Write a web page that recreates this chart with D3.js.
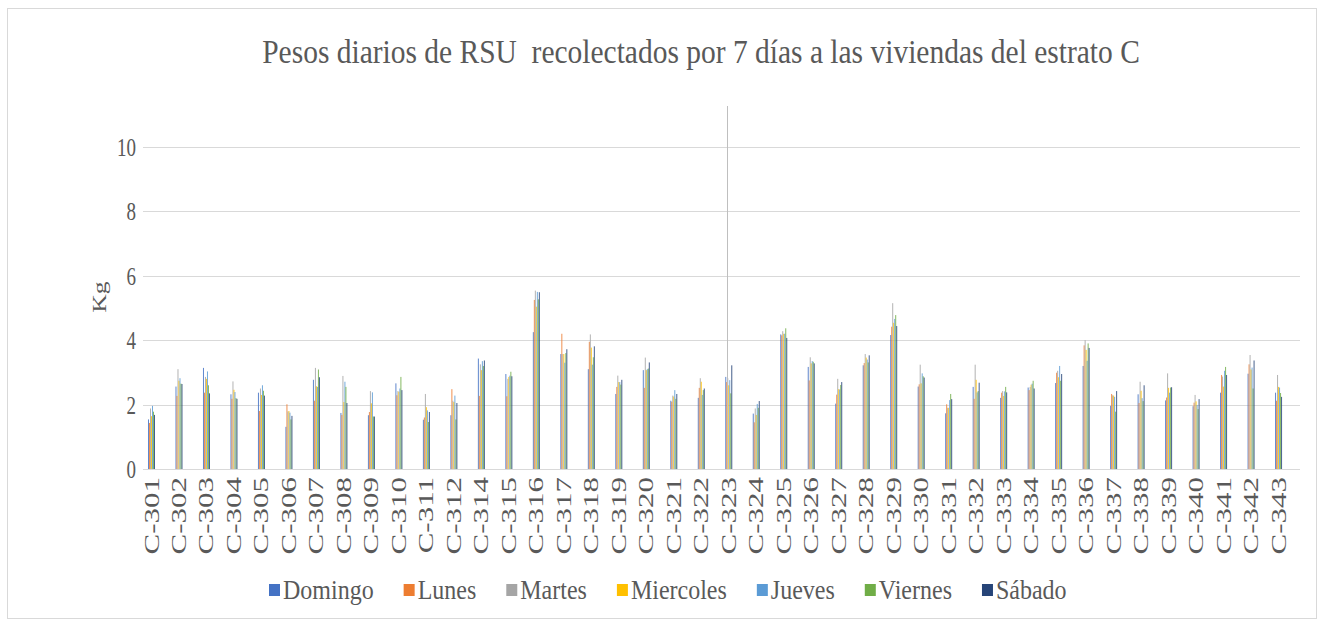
<!DOCTYPE html>
<html>
<head>
<meta charset="utf-8">
<script src="https://cdn.jsdelivr.net/npm/d3@7"></script>
<style>
  body { margin: 0; background: #fff; }
  text { font-family: "Liberation Serif", "DejaVu Serif", serif; fill: #595959; }
</style>
</head>
<body>
<div class="graph"></div>
<script>
// categories (viviendas)
var casas = ["C-301","C-302","C-303","C-304","C-305","C-306","C-307","C-308","C-309","C-310",
  "C-311","C-312","C-314","C-315","C-316","C-317","C-318","C-319","C-320","C-321",
  "C-322","C-323","C-324","C-325","C-326","C-327","C-328","C-329","C-330","C-331",
  "C-332","C-333","C-334","C-335","C-336","C-337","C-338","C-339","C-340","C-341",
  "C-342","C-343"];

var dias = ["Domingo","Lunes","Martes","Miercoles","Jueves","Viernes","Sábado"];
var colores = ["#4472C4","#ED7D31","#A5A5A5","#FFC000","#5B9BD5","#70AD47","#264478"];

// kg per day, one array per day (same order as casas)
var domingo   = [1.54,2.56,3.14,2.32,2.37,1.31,2.77,1.74,1.67,2.66,1.53,1.67,3.43,2.95,4.25,3.57,3.10,2.33,3.07,2.12,2.21,2.86,1.72,4.18,3.17,2.03,3.22,4.16,2.56,1.73,2.55,2.21,2.53,2.67,3.20,1.96,2.32,2.13,1.95,2.37,2.96,2.37];
var lunes     = [1.43,2.27,2.37,2.18,1.80,2.01,2.12,1.68,1.77,2.29,1.60,2.48,2.27,2.26,5.25,4.20,3.95,2.55,2.52,2.09,2.52,2.70,1.45,4.15,2.75,2.31,3.29,4.42,2.63,2.01,2.18,2.37,2.45,2.99,3.84,2.33,2.05,2.22,2.06,2.92,3.25,2.12];
var martes    = [1.88,3.10,2.86,2.72,2.50,1.79,3.14,2.89,2.42,2.42,2.33,2.12,3.25,2.80,5.54,3.57,4.18,2.90,3.46,2.28,2.82,2.82,1.88,4.28,3.47,2.80,3.57,5.15,3.24,1.90,3.24,2.42,2.55,3.05,4.00,2.29,2.71,2.97,2.30,2.87,3.54,2.92];
var miercoles = [1.64,2.74,2.80,2.46,2.30,1.80,2.57,2.08,2.04,2.40,1.92,2.08,3.07,2.86,5.04,3.57,3.77,2.70,3.07,2.25,2.71,2.60,1.68,4.20,3.28,2.48,3.46,4.54,2.66,1.90,2.77,2.27,2.62,2.85,3.70,2.28,2.43,2.52,2.10,2.56,3.09,2.55];
var jueves    = [1.96,2.82,3.03,2.39,2.60,1.75,2.55,2.71,2.38,2.50,1.82,2.28,3.35,2.90,5.50,3.30,3.24,2.70,3.10,2.45,2.30,2.76,2.02,4.20,3.35,2.47,3.40,4.66,2.97,2.14,2.38,2.41,2.65,3.20,3.36,2.24,2.20,2.37,1.99,3.05,3.15,2.53];
var viernes   = [1.78,2.65,2.60,2.20,2.43,1.54,3.09,2.55,1.63,2.86,1.46,1.54,3.20,3.02,5.27,3.60,3.47,2.62,3.12,2.18,2.45,2.35,1.90,4.37,3.33,2.61,3.31,4.78,2.88,2.33,2.42,2.55,2.74,2.74,3.90,1.78,2.11,2.53,1.86,3.17,2.50,2.36];
var sabado    = [1.68,2.64,2.35,2.18,2.28,1.65,2.85,2.05,1.63,2.45,1.77,2.05,3.37,2.88,5.49,3.72,3.81,2.77,3.31,2.33,2.50,3.22,2.11,4.07,3.28,2.70,3.53,4.44,2.84,2.17,2.68,2.38,2.50,2.95,3.76,2.42,2.60,2.54,2.17,2.92,3.37,2.24];

var yTicks = [0, 2, 4, 6, 8, 10];

var series = [domingo, lunes, martes, miercoles, jueves, viernes, sabado];

var width = 1323, height = 623;

var svg = d3.select("div.graph").append("svg")
    .attr("width", width)
    .attr("height", height);

svg.append("rect")
    .attr("x", 0).attr("y", 0)
    .attr("width", width).attr("height", height)
    .attr("fill", "#fff");

// chart border
svg.append("rect")
    .attr("x", 7.5).attr("y", 8.5)
    .attr("width", 1309).attr("height", 610)
    .attr("fill", "none")
    .attr("stroke", "#d9d9d9");

// scales
var x = d3.scaleBand().domain(casas).range([137.75, 1292.3]);
var xs = d3.scaleBand().domain(dias).range([0, 7]);
var y = d3.scaleLinear().domain([0, 10]).range([469, 147]);

// gridlines
svg.append("g").selectAll("line")
    .data(yTicks)
    .enter().append("line")
      .attr("x1", 143).attr("x2", 1300)
      .attr("y1", function(d) { return Math.round(y(d)) + 0.5; })
      .attr("y2", function(d) { return Math.round(y(d)) + 0.5; })
      .attr("stroke", "#d9d9d9")
      .attr("stroke-width", 1);

// y labels (source picture is stretched vertically, so scale the glyphs)
svg.append("g").selectAll("text")
    .data(yTicks)
    .enter().append("text")
      .attr("transform", function(d) { return "translate(136," + y(d) + ") scale(1,1.35)"; })
      .attr("dy", "0.35em")
      .attr("text-anchor", "end")
      .style("font-size", "19px")
      .text(function(d) { return d; });

svg.append("text")
    .attr("transform", "translate(106,297) rotate(-90) scale(1.35,1)")
    .attr("text-anchor", "middle")
    .style("font-size", "19px")
    .text("Kg");

// bars
var rows = casas.map(function(c, i) {
  return {casa: c, vals: series.map(function(s, j) { return {dia: dias[j], v: s[i], color: colores[j]}; })};
});

var grupos = svg.append("g").selectAll("g")
    .data(rows)
    .enter().append("g")
      .attr("transform", function(d) { return "translate(" + (x(d.casa) + x.bandwidth() / 2 - 3.5) + ",0)"; });

grupos.selectAll("rect")
    .data(function(d) { return d.vals; })
    .enter().append("rect")
      .attr("x", function(d) { return xs(d.dia); })
      .attr("width", xs.bandwidth())
      .attr("y", function(d) { return y(d.v); })
      .attr("height", function(d) { return y(0) - y(d.v); })
      .attr("fill", function(d) { return d.color; })
      .attr("fill-opacity", 0.85);

// x labels
svg.append("g").selectAll("text")
    .data(casas)
    .enter().append("text")
      .attr("transform", function(d) {
        return "translate(" + (x(d) + x.bandwidth() / 2) + ",477) rotate(-90) scale(1.55,1)";
      })
      .attr("text-anchor", "end")
      .attr("dy", "0.35em")
      .style("font-size", "20px")
      .text(function(d) { return d; });

// vertical rule
svg.append("line")
    .attr("x1", 727.5).attr("x2", 727.5)
    .attr("y1", 106).attr("y2", 469)
    .attr("stroke", "#bfbfbf");

// title
svg.append("text")
    .attr("transform", "translate(701,63) scale(1,1.15)")
    .attr("text-anchor", "middle")
    .attr("xml:space", "preserve")
    .style("font-size", "29.5px")
    .text("Pesos diarios de RSU  recolectados por 7 días a las viviendas del estrato C");

// legend
var legend = svg.append("g").attr("transform", "translate(269,590)");
var lx = 0;
dias.forEach(function(d, j) {
  var item = legend.append("g").attr("transform", "translate(" + lx + ",0)");
  item.append("rect")
      .attr("x", 0).attr("y", -6)
      .attr("width", 11).attr("height", 12)
      .attr("fill", colores[j]);
  var t = item.append("text")
      .attr("transform", "translate(14,0) scale(1,1.1)")
      .attr("dy", "0.35em")
      .style("font-size", "24px")
      .text(d);
  lx += 14 + t.node().getComputedTextLength() + 30;
});
</script>
</body>
</html>
